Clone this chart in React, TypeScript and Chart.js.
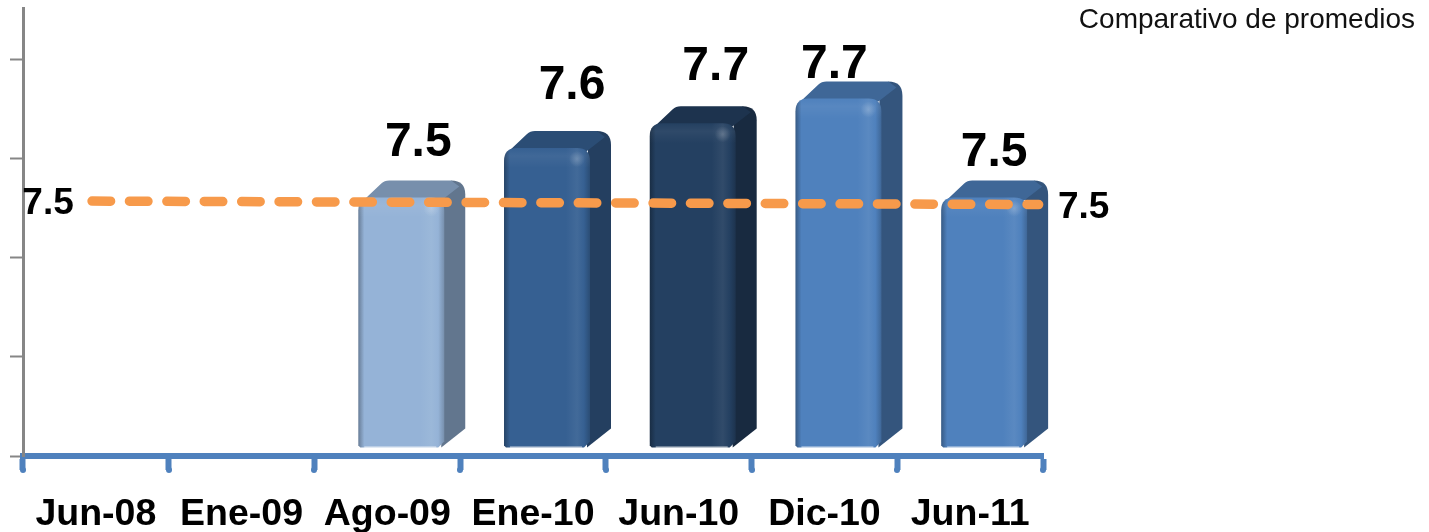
import React, { useEffect, useRef } from "react";
import { Chart, registerables } from "chart.js";

Chart.register(...registerables);

const categories = ["Jun-08", "Ene-09", "Ago-09", "Ene-10", "Jun-10", "Dic-10", "Jun-11"];
const barValues = [null, null, 7.505, 7.605, 7.655, 7.705, 7.505];
const barColors = ["#4f81bd", "#4f81bd", "#95b3d7", "#366092", "#244061", "#4f81bd", "#4f81bd"];
const trendPositions = [0.474, 6.97];
const trendValues = [7.515, 7.508];
const trendLabel = "7.5";
const noteText = "Comparativo de promedios";

const labelNudgeX = [0, 0, 17, 25, 23, -4, 10];
const labelNudgeY = [0, 0, 38, 45, 39, 17, 28];

const FONT = '"Liberation Sans", Arial, sans-serif';
const DEPTH_X = 21;
const DEPTH_Y = 17;
const FLOOR = 8.5;
const SHIFT_X = 14;

function shade(hex: string, f: number) {
  const n = parseInt(hex.slice(1), 16);
  const ch = [(n >> 16) & 255, (n >> 8) & 255, n & 255].map((c) =>
    Math.round(f >= 1 ? c + (255 - c) * (f - 1) : c * f)
  );
  return `rgb(${ch[0]},${ch[1]},${ch[2]})`;
}

function drawBox(ctx: CanvasRenderingContext2D, cx: number, top: number, base: number, w: number, color: string) {
  const x0 = cx - w / 2 + SHIFT_X;
  const x1 = x0 + w;
  const yT = top - FLOOR;
  const yB = base - FLOOR;
  const r = 13;

  ctx.save();
  // side face
  ctx.fillStyle = shade(color, 0.66);
  ctx.beginPath();
  ctx.moveTo(x1 - 2, yT);
  ctx.lineTo(x1 + DEPTH_X - 14, yT - DEPTH_Y);
  ctx.quadraticCurveTo(x1 + DEPTH_X, yT - DEPTH_Y, x1 + DEPTH_X, yT - DEPTH_Y + 14);
  ctx.lineTo(x1 + DEPTH_X, yB - DEPTH_Y - 2);
  ctx.lineTo(x1 - 3, yB);
  ctx.closePath();
  ctx.fill();

  // top face
  ctx.fillStyle = shade(color, 0.8);
  ctx.beginPath();
  ctx.moveTo(x0 + 5, yT + 3);
  ctx.lineTo(x0 + DEPTH_X + 2, yT - DEPTH_Y + 3);
  ctx.quadraticCurveTo(x0 + DEPTH_X + 5, yT - DEPTH_Y, x0 + DEPTH_X + 10, yT - DEPTH_Y);
  ctx.lineTo(x1 + DEPTH_X - 14, yT - DEPTH_Y);
  ctx.lineTo(x1 + DEPTH_X - 6, yT - DEPTH_Y + 6);
  ctx.lineTo(x1 - 3, yT + 3);
  ctx.closePath();
  ctx.fill();

  // front face
  const g = ctx.createLinearGradient(x0, 0, x1, 0);
  g.addColorStop(0, shade(color, 0.7));
  g.addColorStop(0.07, color);
  g.addColorStop(0.72, color);
  g.addColorStop(0.85, shade(color, 1.06));
  g.addColorStop(0.93, color);
  g.addColorStop(1, shade(color, 0.8));
  ctx.fillStyle = g;
  const front = new Path2D();
  front.moveTo(x0, yB - 2);
  front.lineTo(x0, yT + r);
  front.quadraticCurveTo(x0, yT, x0 + r, yT);
  front.lineTo(x1 - r, yT);
  front.quadraticCurveTo(x1, yT, x1, yT + r);
  front.lineTo(x1, yB - 6);
  front.lineTo(x1 - 6, yB);
  front.lineTo(x0 + 2, yB);
  front.closePath();
  ctx.fill(front);

  // bevel along the top
  ctx.save();
  ctx.clip(front);
  const bevel = ctx.createLinearGradient(0, yT, 0, yT + 20);
  bevel.addColorStop(0, "rgba(255,255,255,0)");
  bevel.addColorStop(0.4, "rgba(255,255,255,0.05)");
  bevel.addColorStop(1, "rgba(255,255,255,0)");
  ctx.fillStyle = bevel;
  ctx.fillRect(x0, yT, x1 - x0, 20);
  const glint = ctx.createRadialGradient(x1 - 13, yT + 11, 0, x1 - 13, yT + 11, 8);
  glint.addColorStop(0, "rgba(255,255,255,0.2)");
  glint.addColorStop(1, "rgba(255,255,255,0)");
  ctx.fillStyle = glint;
  ctx.fillRect(x1 - 24, yT, 22, 22);
  ctx.restore();

  // pale reflection at the foot
  ctx.fillStyle = shade(color, 1.72);
  ctx.fillRect(x0 + 6, yB - 1, w - 14, 1.5);
  ctx.restore();
}

const sceneryPlugin = {
  id: "scenery",
  beforeDatasetDraw(chart: any, args: any) {
    const meta = args.meta;
    if (meta.type !== "bar") return;
    const ctx = chart.ctx;
    const floor = chart.scales.y.bottom;
    meta.data.forEach((el: any, i: number) => {
      if (barValues[i] == null) return;
      drawBox(ctx, el.x, el.y, floor, el.width, el.options.backgroundColor);
    });
    return false;
  },
  afterDraw(chart: any) {
    const ctx = chart.ctx;
    ctx.save();
    ctx.textAlign = "center";
    ctx.textBaseline = "middle";
    ctx.fillStyle = "#000";
    // value labels
    ctx.font = `bold 48px ${FONT}`;
    const barsMeta = chart.getDatasetMeta(0);
    barsMeta.data.forEach((el: any, i: number) => {
      const v = barValues[i];
      if (v == null) return;
      const x = el.x + SHIFT_X + labelNudgeX[i];
      const y = el.y - FLOOR - DEPTH_Y - labelNudgeY[i];
      ctx.fillText(v.toFixed(1), x, y);
    });
    // trend labels
    ctx.font = `bold 37px ${FONT}`;
    const pts = chart.getDatasetMeta(1).data;
    ctx.fillText(trendLabel, pts[0].x - 44, pts[0].y + 3);
    ctx.fillText(trendLabel, pts[1].x + 45, pts[1].y + 3);
    // note
    ctx.font = `28px ${FONT}`;
    ctx.textAlign = "right";
    ctx.fillStyle = "#111";
    ctx.fillText(noteText, 1415, 20);
    // rounded tips of the x ticks
    const xs = chart.scales.x;
    ctx.fillStyle = "#4f81bd";
    for (let k = 0; k <= categories.length; k++) {
      const px = chart.chartArea.left + (k * chart.chartArea.width) / categories.length;
      ctx.beginPath();
      ctx.arc(Math.round(px), xs.top + 14, 3, 0, Math.PI * 2);
      ctx.fill();
    }
    ctx.restore();
  },
};

export default function App() {
  const ref = useRef<HTMLCanvasElement | null>(null);
  useEffect(() => {
    document.body.style.margin = "0";
    const chart = new Chart(ref.current as HTMLCanvasElement, {
      type: "bar",
      data: {
        labels: categories,
        datasets: [
          {
            type: "bar",
            data: barValues,
            backgroundColor: barColors,
            barPercentage: 0.59,
            categoryPercentage: 1,
            grouped: false,
            order: 2,
          },
          {
            type: "line",
            data: trendPositions.map((x, i) => ({ x, y: trendValues[i] })),
            xAxisID: "xLine",
            borderColor: "#f79a4b",
            borderWidth: 9.5,
            borderDash: [18.5, 18.9],
            borderCapStyle: "round",
            pointRadius: 0,
            tension: 0,
            fill: false,
            clip: false,
            order: 1,
          },
        ],
      } as any,
      plugins: [sceneryPlugin],
      options: {
        responsive: false,
        animation: false,
        layout: { padding: { left: 0, right: 386, top: 8, bottom: 0 } },
        plugins: { legend: { display: false }, tooltip: { enabled: false }, title: { display: false } },
        scales: {
          x: {
            type: "category",
            offset: true,
            grid: {
              offset: true,
              drawOnChartArea: false,
              drawTicks: true,
              tickLength: 14,
              tickWidth: 6,
              tickColor: "#4f81bd",
            },
            border: { color: "#4f81bd", width: 6 },
            ticks: {
              autoSkip: false,
              maxRotation: 0,
              padding: 22,
              color: "#000",
              font: { family: FONT, size: 37.5, weight: "bold" },
            },
            afterFit(s: any) {
              s.height = 76;
            },
          },
          xLine: { type: "linear", display: false, min: 0, max: 7, offset: false, position: "bottom" },
          y: {
            min: 7,
            max: 7.905,
            grid: {
              drawOnChartArea: false,
              drawTicks: true,
              tickLength: 13,
              tickWidth: 2,
              tickColor: "#868686",
            },
            border: { color: "#868686", width: 3 },
            ticks: { stepSize: 0.2, includeBounds: false, callback: () => "", padding: 0 },
            afterFit(s: any) {
              s.width = 23;
            },
          },
        },
      } as any,
    });
    return () => chart.destroy();
  }, []);
  return <canvas ref={ref} width={1429} height={532} style={{ display: "block" }} />;
}
